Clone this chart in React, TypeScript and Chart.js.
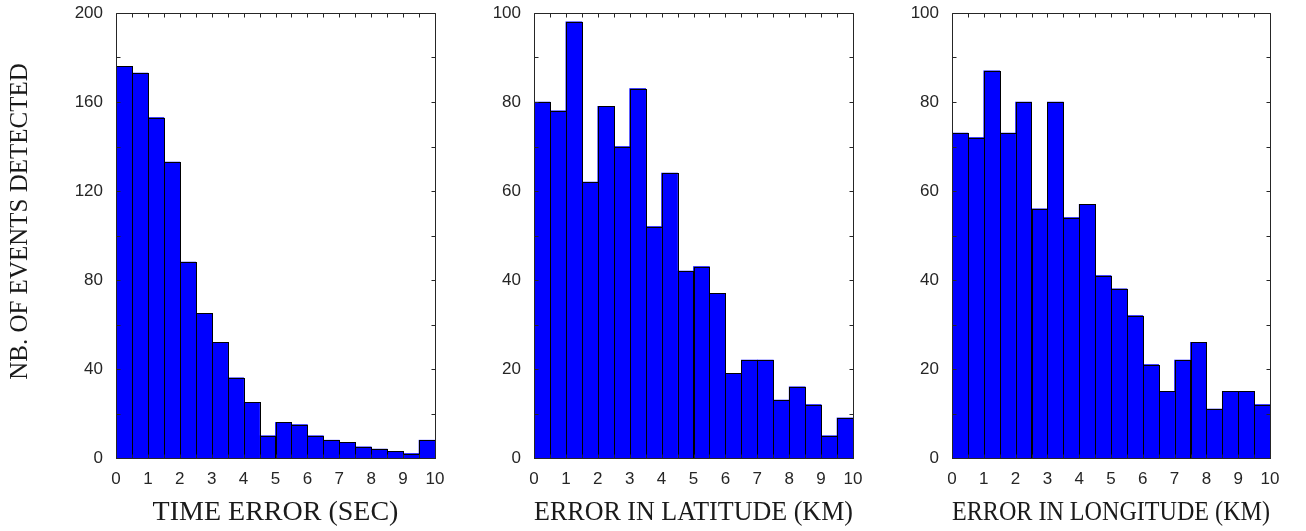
import React, { useEffect, useRef } from 'react';
import { Chart, registerables } from 'chart.js';

Chart.register(...registerables);

// Histogram bins (centres of 0.5-wide bins from 0 to 10)
const binCenters = [
  0.25, 0.75, 1.25, 1.75, 2.25, 2.75, 3.25, 3.75, 4.25, 4.75,
  5.25, 5.75, 6.25, 6.75, 7.25, 7.75, 8.25, 8.75, 9.25, 9.75,
];

const timeErrorCounts = [176, 173, 153, 133, 88, 65, 52, 36, 25, 10, 16, 15, 10, 8, 7, 5, 4, 3, 2, 8];
const latitudeErrorCounts = [80, 78, 98, 62, 79, 70, 83, 52, 64, 42, 43, 37, 19, 22, 22, 13, 16, 12, 5, 9];
const longitudeErrorCounts = [73, 72, 87, 73, 80, 56, 80, 54, 57, 41, 38, 32, 21, 15, 22, 26, 11, 15, 15, 12];

const xTickLabels = [0, 1, 2, 3, 4, 5, 6, 7, 8, 9, 10];
const timeYTickLabels = [0, 40, 80, 120, 160, 200];
const kmYTickLabels = [0, 20, 40, 60, 80, 100];

const xTitles = ['TIME ERROR (SEC)', 'ERROR IN LATITUDE (KM)', 'ERROR IN LONGITUDE (KM)'];
const yTitle = 'NB. OF EVENTS DETECTED';

const TICK_FONT = "'Liberation Sans', Arial, sans-serif";
const TITLE_FONT = "'Liberation Serif', 'Times New Roman', serif";
const AXIS_COLOR = '#262626';

type Panel = {
  left: number;
  width: number;
  yWidth: number;
  rightPad: number;
  yMax: number;
  yStep: number;
  yLabels: number[];
  counts: number[];
  xTitle: string;
  showYTitle: boolean;
};

const panels: Panel[] = [
  { left: 0, width: 480, yWidth: 116, rightPad: 45, yMax: 200, yStep: 20, yLabels: timeYTickLabels, counts: timeErrorCounts, xTitle: xTitles[0], showYTitle: true },
  { left: 480, width: 420, yWidth: 54, rightPad: 47, yMax: 100, yStep: 10, yLabels: kmYTickLabels, counts: latitudeErrorCounts, xTitle: xTitles[1], showYTitle: false },
  { left: 900, width: 406, yWidth: 52, rightPad: 36, yMax: 100, yStep: 10, yLabels: kmYTickLabels, counts: longitudeErrorCounts, xTitle: xTitles[2], showYTitle: false },
];

const H = 531;

function makeFramePlugin(showYTitle: boolean) {
  return {
    id: 'matlabFrame',
    afterDatasetsDraw(chart: any) {
      const ctx = chart.ctx;
      const meta = chart.getDatasetMeta(0);
      ctx.save();
      ctx.strokeStyle = '#000000';
      ctx.lineWidth = 1;
      meta.data.forEach((bar: any) => {
        const { x, y, base, width } = bar.getProps(['x', 'y', 'base', 'width'], true);
        const l = Math.round(x - width / 2) + 0.5;
        const r = Math.round(x + width / 2) + 0.5;
        const t = Math.round(y) + 0.5;
        const b = Math.round(base) + 0.5;
        ctx.strokeRect(l, t, r - l, b - t);
      });
      ctx.restore();
    },
    afterDraw(chart: any) {
      const { ctx, chartArea: a, scales } = chart;
      const L = Math.round(a.left) + 0.5;
      const R = Math.round(a.right) + 0.5;
      const T = Math.round(a.top) + 0.5;
      const B = Math.round(a.bottom) + 0.5;
      const tl = 4;
      ctx.save();
      ctx.strokeStyle = AXIS_COLOR;
      ctx.lineWidth = 1;
      ctx.beginPath();
      ctx.rect(L, T, R - L, B - T);
      scales.x.ticks.forEach((t: any) => {
        const px = Math.round(scales.x.getPixelForValue(t.value)) + 0.5;
        ctx.moveTo(px, B);
        ctx.lineTo(px, B - tl);
        ctx.moveTo(px, T);
        ctx.lineTo(px, T + tl);
      });
      scales.y.ticks.forEach((t: any) => {
        const py = Math.round(scales.y.getPixelForValue(t.value)) + 0.5;
        ctx.moveTo(L, py);
        ctx.lineTo(L + tl, py);
        ctx.moveTo(R, py);
        ctx.lineTo(R - tl, py);
      });
      ctx.stroke();

      if (showYTitle) {
        ctx.fillStyle = '#1a1a1a';
        ctx.font = `25px ${TITLE_FONT}`;
        ctx.textAlign = 'center';
        ctx.textBaseline = 'alphabetic';
        ctx.translate(26.5, 221.5);
        ctx.rotate(-Math.PI / 2);
        ctx.fillText(yTitle, 0, 0);
      }
      ctx.restore();
    },
  };
}

function HistPanel({ p }: { p: Panel }) {
  const ref = useRef<HTMLCanvasElement | null>(null);
  useEffect(() => {
    if (!ref.current) return;
    const chart = new Chart(ref.current, {
      type: 'bar',
      data: {
        datasets: [
          {
            data: binCenters.map((c, i) => ({ x: c, y: p.counts[i] })),
            backgroundColor: '#0000FF',
            borderWidth: 0,
            barPercentage: 1,
            categoryPercentage: 1,
          } as any,
        ],
      },
      options: {
        responsive: false,
        animation: false,
        devicePixelRatio: 1,
        layout: { padding: { top: 13, right: p.rightPad, left: 0, bottom: 0 } },
        plugins: {
          legend: { display: false },
          tooltip: { enabled: false },
        },
        scales: {
          x: {
            type: 'linear',
            min: 0,
            max: 10,
            offset: false,
            grid: { display: false, drawTicks: false },
            border: { display: false },
            ticks: {
              stepSize: 0.5,
              autoSkip: false,
              maxRotation: 0,
              minRotation: 0,
              padding: 11,
              color: AXIS_COLOR,
              font: { family: TICK_FONT, size: 17 },
              callback: (v: any) => (xTickLabels.includes(Number(v)) ? String(v) : ''),
            },
            title: {
              display: true,
              text: p.xTitle,
              color: '#1a1a1a',
              font: { family: TITLE_FONT, size: 28 },
              padding: { top: 0, bottom: 2 },
            },
            afterFit: (s: any) => {
              s.height = H - 458;
              s.paddingLeft = 0;
              s.paddingRight = 0;
            },
          },
          y: {
            type: 'linear',
            min: 0,
            max: p.yMax,
            grid: { display: false, drawTicks: false },
            border: { display: false },
            ticks: {
              stepSize: p.yStep,
              autoSkip: false,
              padding: 13,
              color: AXIS_COLOR,
              font: { family: TICK_FONT, size: 17 },
              callback: (v: any) => (p.yLabels.includes(Number(v)) ? String(v) : ''),
            },
            afterFit: (s: any) => {
              s.width = p.yWidth;
              s.paddingTop = 0;
              s.paddingBottom = 0;
            },
          },
        },
      } as any,
      plugins: [makeFramePlugin(p.showYTitle)],
    });
    return () => chart.destroy();
  }, [p]);
  return (
    <canvas
      ref={ref}
      width={p.width}
      height={H}
      style={{ position: 'absolute', left: p.left, top: 0, width: p.width, height: H }}
    />
  );
}

export default function App() {
  return (
    <div style={{ position: 'absolute', left: 0, top: 0, width: 1306, height: H, background: '#ffffff' }}>
      {panels.map((p, i) => (
        <HistPanel key={i} p={p} />
      ))}
    </div>
  );
}
